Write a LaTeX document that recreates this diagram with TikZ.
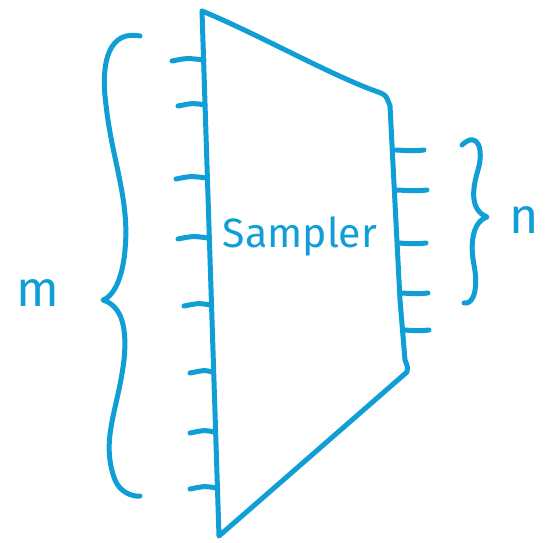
\documentclass[tikz,border=0pt]{standalone}
\usepackage{fontspec}
\setmainfont{Fira Sans}
\definecolor{pen}{RGB}{16,158,214}
\begin{document}
\begin{tikzpicture}[x=1pt,y=-1pt,
  ink/.style={draw=pen,line width=5pt,line cap=round,line join=round},
  tick/.style={ink}]
\useasboundingbox (0,0) rectangle (549,543);
% corners of the sampler
\coordinate (tl) at (202,11);
\coordinate (tr) at (388,98);
\coordinate (br) at (407,372);
\coordinate (bl) at (219,536);
\draw[ink] (tl) .. controls (260,35) and (330,75) .. (378,92) .. controls (386,95) .. (390,106)
  -- (400,300) -- (405,360) .. controls (408,368) .. (br) -- (bl) -- (tl);
% left ticks
\foreach \y/\xa/\xb in {60/172/204, 105/178/205, 178/176/206, 238/178/208, 305/184/210, 372/190/212, 432/190/214, 488/190/216}{
  \coordinate (l\y) at (\xb,\y);
  \draw[tick] (\xa,\y+1) .. controls (\xa+15,\y-2) .. (l\y);
}
% right ticks
\foreach \y/\xa/\xb in {150/396/424, 190/397/427, 243/398/426, 293/402/428, 330/404/429}{
  \coordinate (r\y) at (\xb,\y);
  \draw[tick] (\xa,\y) .. controls (\xb-10,\y+1) .. (r\y);
}
% left brace
\coordinate (lb1) at (140,36);
\coordinate (lbt) at (103,300);
\coordinate (lb2) at (140,496);
\draw[ink] (lb1) .. controls (110,30) and (100,60) .. (106,105)
  .. controls (112,160) and (130,200) .. (125,250)
  .. controls (122,285) and (110,298) .. (lbt)
  .. controls (118,305) and (128,320) .. (124,360)
  .. controls (118,410) and (100,440) .. (115,480)
  .. controls (120,492) and (132,497) .. (lb2);
% right brace
\coordinate (rb1) at (462,145);
\coordinate (rbt) at (487,217);
\coordinate (rb2) at (464,303);
\draw[ink] (rb1) .. controls (478,130) and (484,150) .. (478,170)
  .. controls (472,190) and (470,210) .. (rbt)
  .. controls (472,222) and (470,245) .. (474,265)
  .. controls (478,285) and (475,305) .. (rb2);
% labels
\node[text=pen,font=\fontsize{41}{41}\selectfont] (lab) at (300,236) {Sampler};
\node[text=pen,font=\fontsize{50}{50}\selectfont] (m) at (38,293) {m};
\node[text=pen,font=\fontsize{50}{50}\selectfont] (n) at (524,220) {n};
\end{tikzpicture}
\end{document}
